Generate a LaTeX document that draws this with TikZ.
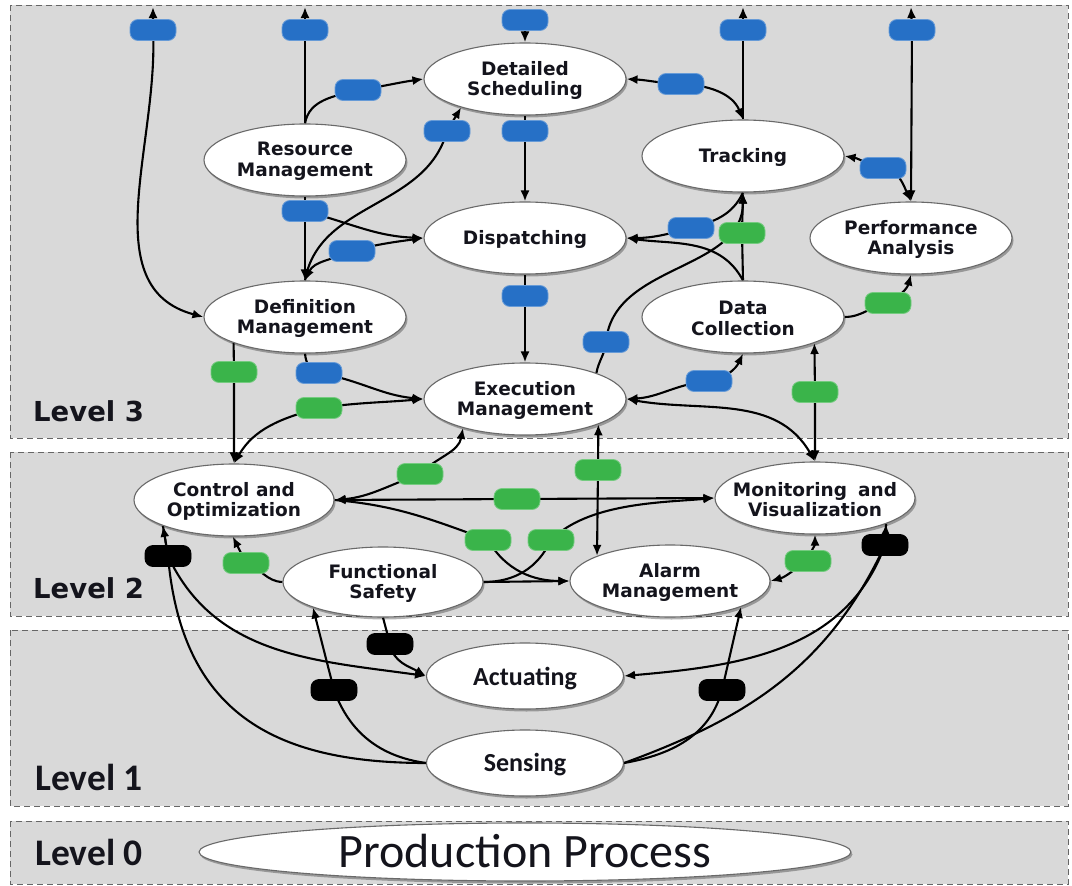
\documentclass[tikz,border=0pt]{standalone}
\usepackage{fontspec}
\setmainfont{DejaVu Sans}
\newfontfamily\narrowfont{Carlito}
\usetikzlibrary{arrows.meta,shadows,shapes.geometric}

\definecolor{panelgray}{RGB}{217,217,217}
\definecolor{pillblue}{RGB}{38,112,198}
\definecolor{pillgreen}{RGB}{58,180,74}
\definecolor{rimgray}{RGB}{105,105,105}
\definecolor{inkblack}{RGB}{20,20,28}

\pgfdeclarelayer{panels}
\pgfdeclarelayer{links}
\pgfsetlayers{panels,links,main}

% soft white-to-grey fill of the function bubbles
\pgfdeclareradialshading{eggshade}{\pgfpoint{-4bp}{8bp}}{%
  color(0bp)=(white); color(28bp)=(white); color(43bp)=(black!9); color(50bp)=(black!24)}

\tikzset{
  link/.style={line width=2.1pt, draw=black},
  >={Latex[length=11pt,width=9pt]},
  ell/.style={ellipse, inner sep=0pt, minimum width=202pt, minimum height=72pt,
    draw=rimgray, line width=1.1pt, shade, shading=eggshade,
    drop shadow={shadow xshift=1.5pt, shadow yshift=-2.5pt, opacity=0.3, fill=black}},
  smallell/.style={ell, minimum width=197pt, minimum height=66pt},
  etext/.style={font=\fontsize{18.5}{20.5}\selectfont\bfseries, text=inkblack, align=center, inner sep=0pt, yshift=-1.5pt},
  ntext/.style={font=\narrowfont\fontsize{26}{28}\selectfont\bfseries, text=inkblack, inner sep=0pt, anchor=base},
  pill/.style={rectangle, rounded corners=8pt, minimum width=46pt, minimum height=21pt, inner sep=0pt, line width=0.8pt},
  bpill/.style={pill, fill=pillblue, draw=pillblue!70!white},
  gpill/.style={pill, fill=pillgreen, draw=pillgreen!70!white},
  kpill/.style={pill, fill=black, draw=black},
  panel/.style={fill=panelgray, draw=black!60, line width=0.8pt, dash pattern=on 6pt off 4pt},
  leveltext/.style={font=\fontsize{27.5}{30}\selectfont\bfseries, text=inkblack, inner sep=0pt, anchor=base west},
  levelnarrow/.style={font=\narrowfont\fontsize{37.5}{40}\selectfont\bfseries, text=inkblack, inner sep=0pt, anchor=base west},
}

\begin{document}
\begin{tikzpicture}[x=1pt,y=1pt]
\useasboundingbox (0,0) rectangle (1072,-886);

% ---------- level bands ----------
\begin{pgfonlayer}{panels}
  \fill[white] (0,0) rectangle (1072,-886);
  \path[panel] (10,-5)   rectangle (1068,-438);
  \path[panel] (10,-452) rectangle (1068,-616);
  \path[panel] (10,-630) rectangle (1068,-806);
  \path[panel] (10,-821) rectangle (1068,-884);
\end{pgfonlayer}

\node[leveltext]   (lv3) at (33,-421) {Level 3};
\node[leveltext]   (lv2) at (33,-598) {Level 2};
\node[levelnarrow] (lv1) at (35,-790) {Level 1};
\node[levelnarrow] (lv0) at (35,-865) {Level 0};

% ---------- function bubbles ----------
\node[ell] (DS) at (525,-79)  {};  \node[etext] at (DS) {Detailed\\Scheduling};
\node[ell] (RM) at (305,-160) {};  \node[etext] at (RM) {Resource\\Management};
\node[ell] (TR) at (743,-156) {};  \node[etext] at (TR) {Tracking};
\node[ell] (DP) at (525,-238) {};  \node[etext] at (DP) {Dispatching};
\node[ell] (PA) at (911,-238) {};  \node[etext] at (PA) {Performance\\Analysis};
\node[ell] (DM) at (305,-317) {};  \node[etext] at (DM) {Definition\\Management};
\node[ell] (DC) at (743,-317) {};  \node[etext] at (DC) {Data\\Collection};
\node[ell] (EM) at (525,-399) {};  \node[etext] at (EM) {Execution\\Management};
\node[ell, minimum width=200pt] (CO) at (234,-500) {};  \node[etext] at (CO) {Control and\\Optimization};
\node[ell, minimum width=200pt] (MV) at (815,-498) {};  \node[etext] at (MV) {Monitoring\hspace{0.6em}and\\Visualization};
\node[ell, minimum width=200pt, minimum height=70pt] (FS) at (383,-582) {};  \node[etext] at (FS) {Functional\\Safety};
\node[ell, minimum width=200pt] (AM) at (670,-581) {};  \node[etext] at (AM) {Alarm\\Management};
\node[smallell] (AC) at (525,-676) {};  \node[ntext] at (525,-685) {Actuating};
\node[smallell] (SE) at (525,-763) {};  \node[ntext] at (525,-771) {Sensing};
\node[ell, minimum width=652pt, minimum height=58pt] (PP) at (525,-852) {};
\node[font=\narrowfont\fontsize{48}{50}\selectfont, text=inkblack, inner sep=0pt, anchor=base] at (525,-867) {Production Process};

% ---------- information-flow tags ----------
\node[bpill] (p1)  at (153,-30)  {};
\node[bpill] (p2)  at (305,-30)  {};
\node[bpill] (p3)  at (525,-20)  {};
\node[bpill] (p4)  at (743,-30)  {};
\node[bpill] (p5)  at (912,-30)  {};
\node[bpill] (p6)  at (358,-90)  {};
\node[bpill] (p7)  at (447,-131) {};
\node[bpill] (p8)  at (525,-131) {};
\node[bpill] (p9)  at (681,-84)  {};
\node[bpill] (p10) at (883,-168) {};
\node[bpill] (p11) at (305,-211) {};
\node[bpill] (p12) at (352,-251) {};
\node[bpill] (p13) at (525,-296) {};
\node[bpill] (p14) at (319,-373) {};
\node[bpill] (p15) at (606,-342) {};
\node[bpill] (p16) at (691,-228) {};
\node[bpill] (p17) at (709,-381) {};

\node[gpill] (g1)  at (234,-372) {};
\node[gpill] (g2)  at (319,-408) {};
\node[gpill] (g3)  at (742,-233) {};
\node[gpill] (g4)  at (888,-303) {};
\node[gpill] (g5)  at (815,-392) {};
\node[gpill] (g6)  at (420,-474) {};
\node[gpill] (g7)  at (517,-499) {};
\node[gpill] (g8)  at (598,-470) {};
\node[gpill] (g9)  at (488,-540) {};
\node[gpill] (g10) at (551,-540) {};
\node[gpill] (g11) at (246,-563) {};
\node[gpill] (g12) at (808,-561) {};

\node[kpill] (k1) at (168,-556) {};
\node[kpill] (k2) at (390,-644) {};
\node[kpill] (k3) at (334,-690) {};
\node[kpill] (k4) at (722,-690) {};
\node[kpill] (k5) at (885,-545) {};

% free ends at the top border
\coordinate (t1) at (153,-7);
\coordinate (t2) at (305,-7);
\coordinate (t4) at (743,-7);
\coordinate (t5) at (911,-7);

% ---------- connectors ----------
\begin{pgfonlayer}{links}
  % level 3
  \draw[link,<->] (t1) -- (p1.center) to[out=-87,in=165] (DM.west);
  \draw[link,->] (RM.north) -- (p2.center) -- (t2);
  \draw[link,->] (p3) -- (DS.north);
  \draw[link,->] (TR.north) -- (p4.center) -- (t4);
  \draw[link,<->] (t5) -- (p5.center) -- (PA.north);
  \draw[link,->] (RM.north) to[out=80,in=195] (p6.center) to[out=8,in=188] (DS.west);
  \draw[link,->] (DM.north) to[out=80,in=-105] (p7.center) -- (DS.-156);
  \draw[link,->] (DS.south) -- (p8.center) -- (DP.north);
  \draw[link,<->] (DS.east) to[out=-3,in=178] (p9.center) to[out=-2,in=112] (TR.north);
  \draw[link,<->] (TR.east) to[out=-10,in=170] (p10.center) to[out=-10,in=115] (PA.north);
  \draw[link,->] (RM.south) -- (p11.center) -- (DM.north);
  \draw[link,->] (p11.center) to[out=-15,in=178] (DP.west);
  \draw[link,<->] (DM.north) to[out=65,in=-155] (p12.center) to[out=15,in=188] (DP.west);
  \draw[link,->] (DP.south) -- (p13.center) -- (EM.north);
  \draw[link,->] (DM.south) to[out=-85,in=170] (p14.center) to[out=-10,in=175] (EM.west);
  \draw[link,->] (EM.20) to[out=80,in=-95] (p15.center) to[out=85,in=-90] (TR.south);
  \draw[link,->] (TR.south) to[out=-115,in=15] (p16.center) to[out=195,in=0] (DP.east);
  \draw[link,->] (DC.north) to[out=118,in=-8] (DP.east);
  \draw[link,->] (DC.north) -- (g3.center) -- (TR.south);
  \draw[link,<->] (EM.east) to[out=3,in=185] (p17.center) to[out=10,in=-115] (DC.south);
  \draw[link,<->] (EM.east) to[out=-10,in=120] (MV.north);
  \draw[link,<->] (DC.-20) -- (g5.center) -- (MV.north);
  \draw[link,->] (DC.east) to[out=0,in=190] (g4.center) to[out=30,in=-105] (PA.south);
  % level 3 to level 2
  \draw[link,->] (DM.-160) -- (g1.center) -- (CO.north);
  \draw[link,<->] (CO.north) to[out=60,in=195] (g2.center) to[out=8,in=185] (EM.west);
  \draw[link,<->] (EM.-155) to[out=-100,in=45] (g6.center) to[out=200,in=5] (CO.east);
  \draw[link,<->] (EM.-19) -- (g8.center) -- (AM.161);
  % level 2
  \draw[link,<->] (CO.east) -- (g7.center) -- (MV.west);
  \draw[link,->] (CO.east) to[out=-5,in=160] (g9.center) to[out=-60,in=180] (AM.west);
  \draw[link,->] (FS.east) to[out=0,in=-115] (g10.center) to[out=45,in=185,looseness=0.8] (MV.west);
  \draw[link,->] (FS.east) -- (AM.west);
  \draw[link,->] (FS.west) to[out=178,in=-20] (g11.center) -- (CO.-92);
  \draw[link,<->] (AM.east) to[out=15,in=-150] (g12.center) to[out=75,in=-90] (MV.south);
  % level 1 to level 2
  \draw[link,->] (SE.west) to[out=180,in=-85,looseness=1.2] (k1.center) -- (CO.-160);
  \draw[link,->] (CO.-160) -- (k1.center) to[out=-65,in=172] (AC.west);
  \draw[link,->] (FS.south) -- (k2.center) to[out=-80,in=150] (AC.west);
  \draw[link,->] (SE.west) to[out=172,in=-70] (k3.center) -- (FS.-160);
  \draw[link,->] (SE.east) to[out=10,in=-105] (k4.center) -- (AM.-20);
  \draw[link,->] (SE.east) to[out=20,in=-115] (k5.center) -- (MV.-20);
  \draw[link,->] (MV.-20) -- (k5.center) to[out=-110,in=5] (AC.east);
\end{pgfonlayer}
\end{tikzpicture}
\end{document}
